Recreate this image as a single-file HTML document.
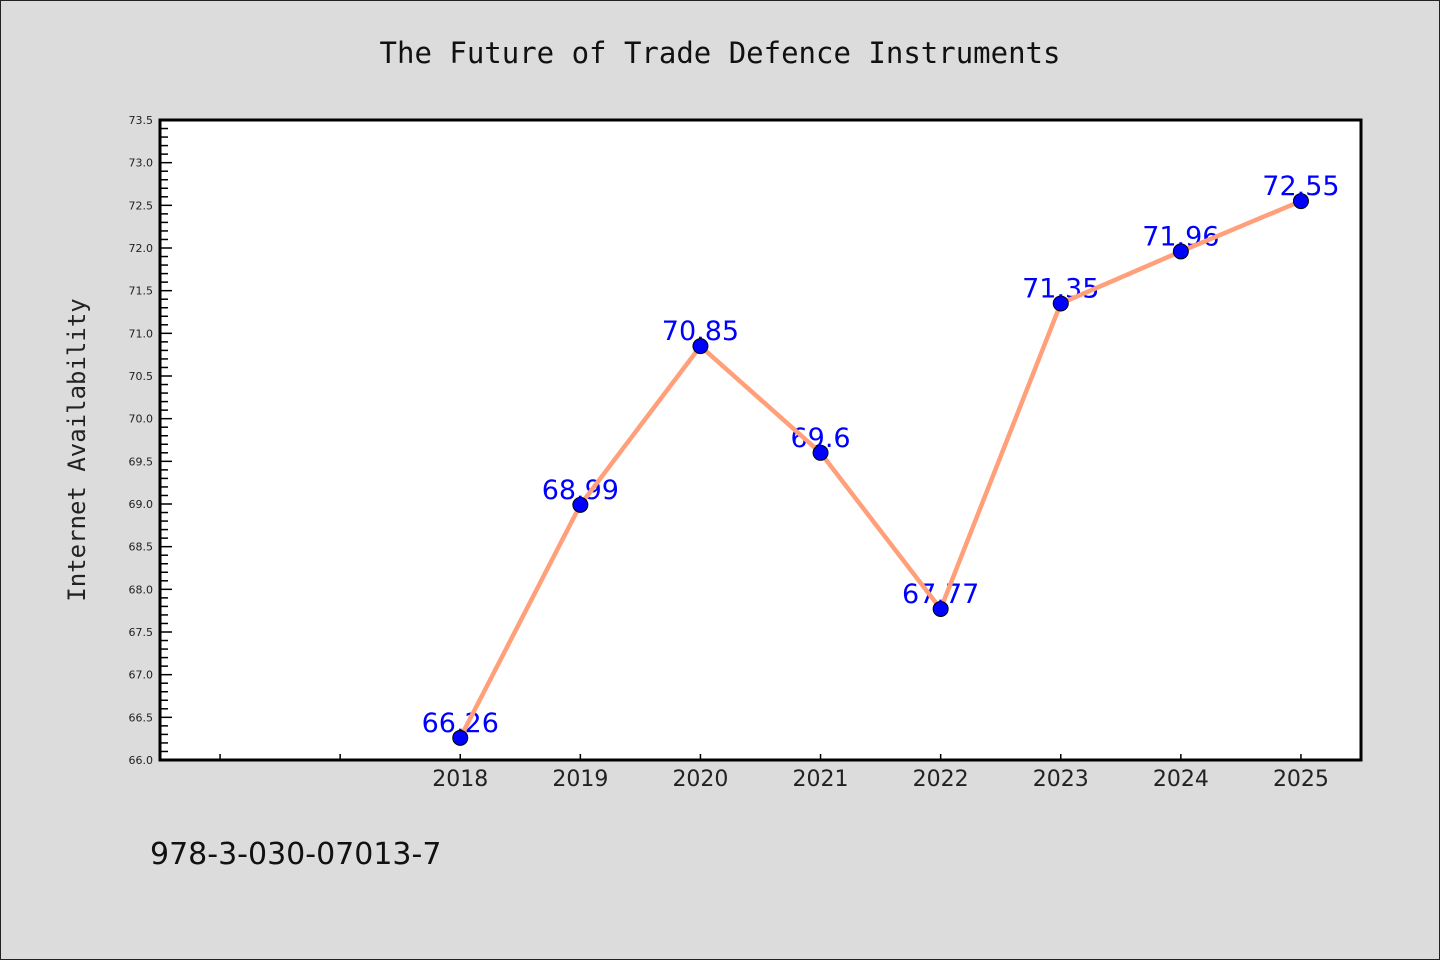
<!DOCTYPE html>
<html><head><meta charset="utf-8"><style>
html,body{margin:0;padding:0;background:#dcdcdc;}
svg{display:block;}
</style></head><body>
<svg width="1440" height="960" xmlns="http://www.w3.org/2000/svg">
<rect x="0.5" y="0.5" width="1439" height="959" fill="#dcdcdc" stroke="#222"/>
<text x="720" y="63" text-anchor="middle" font-family="'DejaVu Sans Mono',monospace" font-size="29" fill="#111">The Future of Trade Defence Instruments</text>
<rect x="160" y="120" width="1201" height="640" fill="#fff"/>
<g id="axes"></g>
<g id="labels"></g>
<path id="line" fill="none" stroke="#ffa07a" stroke-width="4.5" stroke-linejoin="round"/>
<g id="marks"></g>
<rect x="160" y="120" width="1201" height="640" fill="none" stroke="#000" stroke-width="3"/>
<text transform="translate(85,450) rotate(-90)" text-anchor="middle" font-family="'DejaVu Sans Mono',monospace" font-size="24" fill="#222">Internet Availability</text>
<text x="150" y="864" font-family="'DejaVu Sans',sans-serif" font-size="30" fill="#111">978-3-030-07013-7</text>
</svg>
<script>
const years = [2018,2019,2020,2021,2022,2023,2024,2025];
const values = [66.26,68.99,70.85,69.6,67.77,71.35,71.96,72.55];
const valueLabels = ["66.26","68.99","70.85","69.6","67.77","71.35","71.96","72.55"];
const yMin = 66.0, yMax = 73.5;
const xMin = 2015.5, xMax = 2025.5;
const NS = "http://www.w3.org/2000/svg";
const X0=160,X1=1361,Y0=760,Y1=120;
function xs(v){return X0+(v-xMin)/(xMax-xMin)*(X1-X0);}
function ys(v){return Y0-(v-yMin)/(yMax-yMin)*(Y0-Y1);}
function mk(tag,attrs,parent){const e=document.createElementNS(NS,tag);for(const k in attrs)e.setAttribute(k,attrs[k]);parent.appendChild(e);return e;}
const axes=document.getElementById('axes');
for(let i=0;i<=75;i++){
  const v=yMin+i*0.1, y=ys(v), major=i%5===0;
  const t=mk('line',{x1:X0,x2:X0+(major?12:8),y1:y,y2:y,stroke:'#000','stroke-width':1.5},axes);
  
  
  if(major){
    const l=mk('text',{x:X0-7,y:y+4,'text-anchor':'end','font-family':"'DejaVu Sans',sans-serif",'font-size':11,fill:'#222'},axes);
    l.textContent=v.toFixed(1);
    
    
  }
}
for(let yr=2016;yr<=2025;yr++){
  const x=xs(yr);
  const t=mk('line',{x1:x,x2:x,y1:Y0,y2:Y0-6,stroke:'#000','stroke-width':1.5},axes);
  
  
}
years.forEach(yr=>{
  const l=mk('text',{x:xs(yr),y:Y0+26,'text-anchor':'middle','font-family':"'DejaVu Sans',sans-serif",'font-size':22,fill:'#222'},axes);
  l.textContent=String(yr);
  
  
});
const labels=document.getElementById('labels'), marks=document.getElementById('marks');
let d='';
years.forEach((yr,i)=>{
  const x=xs(yr), y=ys(values[i]);
  d+=(i?'L':'M')+x+','+y;
  const t=mk('text',{x:x,y:y-6,'text-anchor':'middle','font-family':"'DejaVu Sans',sans-serif",'font-size':27,fill:'#0000ff'},labels);
  t.textContent=valueLabels[i];
  
  
  const c=mk('circle',{cx:x,cy:y,r:7.5,fill:'#0000ff',stroke:'#000','stroke-width':1},marks);
  
  
});
document.getElementById('line').setAttribute('d',d);
</script>
</body></html>
